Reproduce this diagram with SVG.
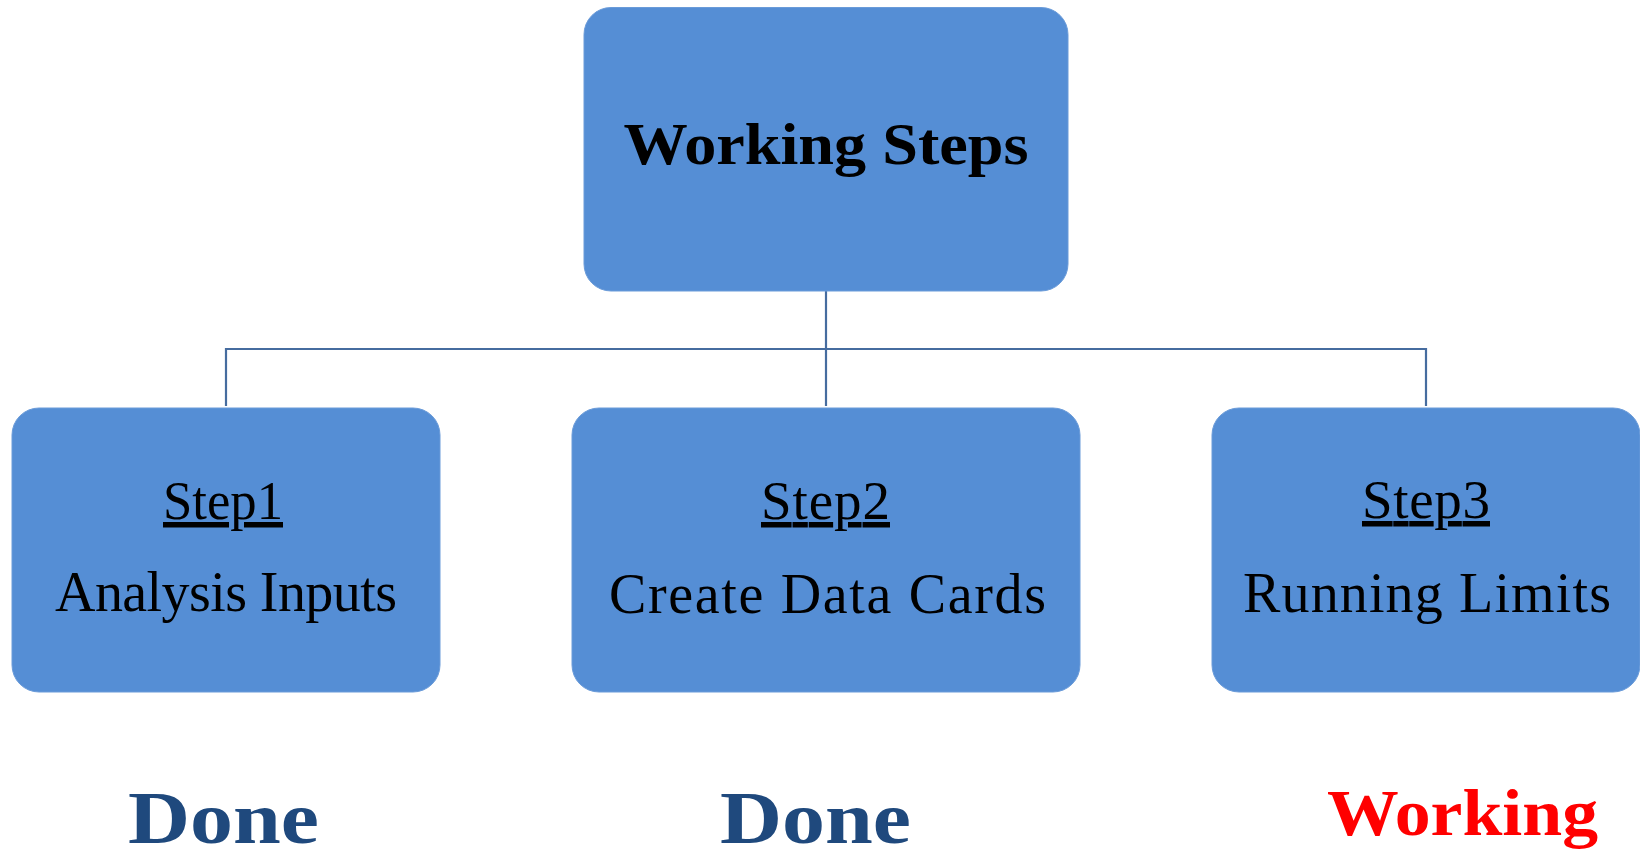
<svg xmlns="http://www.w3.org/2000/svg" width="1640" height="856" viewBox="0 0 1640 856">
<style>
.box{fill:#558ed5;stroke:#6a9bd9;stroke-width:1}
.conn{fill:none;stroke:#466c9f;stroke-width:2.2}
.t{font-family:"Liberation Serif","Times New Roman",serif;text-anchor:middle;fill:#000}
.title{font-size:60px;font-weight:bold}
.step{font-size:55px;text-decoration:underline}
.desc{font-size:56px}
.status{font-size:75px;font-weight:bold}
</style>
<rect width="1640" height="856" fill="#ffffff"/>
<g id="connectors">
<path class="conn" d="M826 291 V406"/>
<path class="conn" d="M226 406 V349 H1426 V406"/>
</g>
<g id="node-root">
<rect class="box" x="584" y="7.5" width="484" height="283.5" rx="27"/>
<text class="t title" x="826" y="164" textLength="405" lengthAdjust="spacingAndGlyphs">Working Steps</text>
</g>
<g id="node-step1">
<rect class="box" x="12" y="408" width="428" height="284" rx="27"/>
<text class="t step" x="223" y="519" textLength="120" lengthAdjust="spacingAndGlyphs">Step1</text>
<text class="t desc" x="226" y="611" textLength="342" lengthAdjust="spacing">Analysis Inputs</text>
</g>
<g id="node-step2">
<rect class="box" x="572" y="408" width="508" height="284" rx="27"/>
<text class="t step" x="825.5" y="519" textLength="129" lengthAdjust="spacing">Step2</text>
<text class="t desc" x="827.5" y="613" textLength="437" lengthAdjust="spacing">Create Data Cards</text>
</g>
<g id="node-step3">
<rect class="box" x="1212" y="408" width="428" height="284" rx="27"/>
<text class="t step" x="1426" y="518" textLength="128" lengthAdjust="spacing">Step3</text>
<text class="t desc" x="1427" y="612" textLength="368" lengthAdjust="spacing">Running Limits</text>
</g>
<g id="status-step1">
<text class="t status" x="223.5" y="843" style="fill:#1f497d" textLength="191" lengthAdjust="spacingAndGlyphs">Done</text>
</g>
<g id="status-step2">
<text class="t status" x="815.5" y="843" style="fill:#1f497d" textLength="191" lengthAdjust="spacingAndGlyphs">Done</text>
</g>
<g id="status-step3">
<text class="t status" x="1462.5" y="835" style="fill:#ff0000;font-size:66px" textLength="271" lengthAdjust="spacingAndGlyphs">Working</text>
</g>
</svg>
